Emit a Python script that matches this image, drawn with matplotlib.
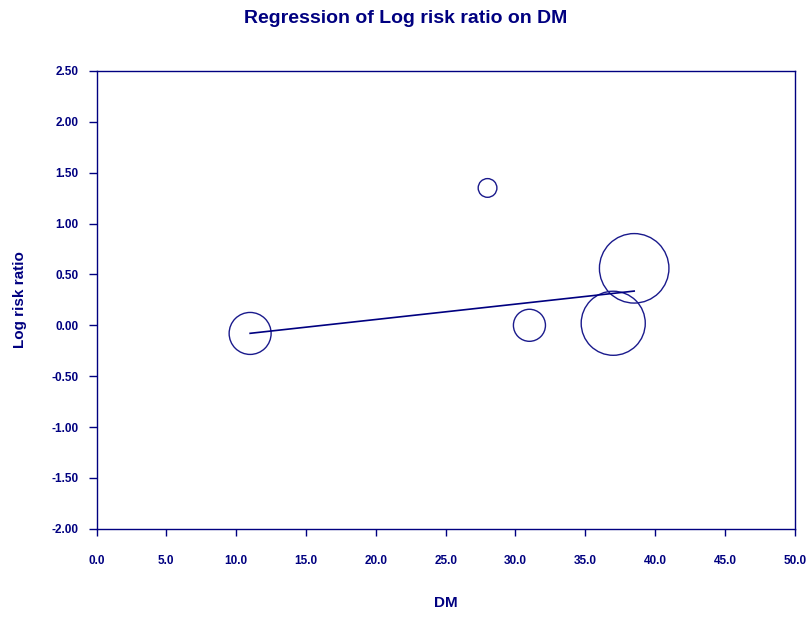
import numpy as np
import matplotlib
matplotlib.use("Agg")
import matplotlib.pyplot as plt

plt.rcParams['font.family'] = ['Liberation Sans', 'DejaVu Sans']

# study-level covariate (DM), effect (log risk ratio) and relative weight (%)
dm = [11.0, 28.0, 31.0, 37.0, 38.5]
log_rr = [-0.08, 1.35, 0.00, 0.02, 0.56]
weight = [14.6, 2.9, 8.5, 34.0, 40.0]

# fitted meta-regression line
slope = 0.0151
intercept = -0.245

x_ticks = np.arange(0, 50.1, 5)
y_ticks = np.arange(-2.0, 2.51, 0.5)

navy = '#000080'

fig = plt.figure(figsize=(8.11, 6.17), dpi=100)
ax = fig.add_axes([0.119, 0.143, 0.861, 0.742])

sizes = np.array(weight) * 62.6
ax.scatter(dm, log_rr, s=sizes, facecolors='none', edgecolors='#1a1a8c',
           linewidths=1.0, zorder=3)

xfit = np.array([min(dm), max(dm)])
ax.plot(xfit, intercept + slope * xfit, color=navy, lw=1.2, zorder=4)

ax.set_xlim(0, 50)
ax.set_ylim(-2.0, 2.5)
ax.set_xticks(x_ticks)
ax.set_yticks(y_ticks)
ax.set_xticklabels([f'{v:.1f}' for v in x_ticks])
ax.set_yticklabels([f'{v:.2f}' for v in y_ticks])

for s in ax.spines.values():
    s.set_color(navy)
    s.set_linewidth(1.0)

ax.tick_params(axis='x', direction='out', length=5, width=1, color=navy,
               labelcolor=navy, labelsize=8.5, pad=14)
ax.tick_params(axis='y', direction='out', length=6, width=1, color=navy,
               labelcolor=navy, labelsize=8.5, pad=7)
for lab in ax.get_xticklabels() + ax.get_yticklabels():
    lab.set_fontweight('bold')

ax.set_xlabel('DM', fontsize=11, fontweight='bold', color=navy)
ax.set_ylabel('Log risk ratio', fontsize=11, fontweight='bold', color=navy)
ax.xaxis.set_label_coords(0.5, -0.147)
ax.yaxis.set_label_coords(-0.1, 0.5)
fig.text(0.5, 0.97, 'Regression of Log risk ratio on DM', ha='center',
         va='center', fontsize=14, fontweight='bold', color=navy)

fig.savefig('out.png', dpi=100, facecolor='white')
